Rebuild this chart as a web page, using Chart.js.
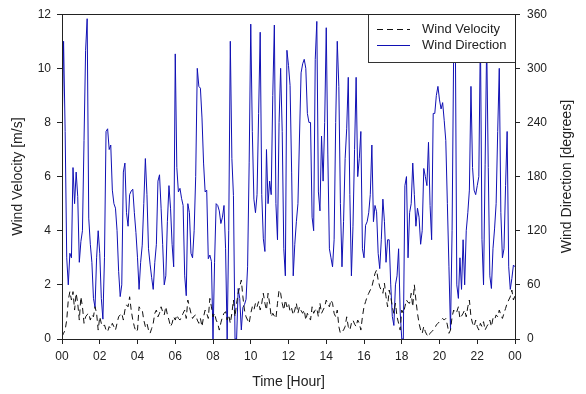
<!DOCTYPE html>
<html>
<head>
<meta charset="utf-8">
<script src="https://cdn.jsdelivr.net/npm/chart.js@4.4.1/dist/chart.umd.min.js"></script>
<style>
  html, body { margin: 0; padding: 0; background: #fff; }
  #wrap { width: 586px; height: 394px; }
</style>
</head>
<body>
<div id="wrap"><canvas id="windChart" width="586" height="394"></canvas></div>
<script>
// tick labels on the time axis (every 2 hours)
const hourLabels = ['00', '02', '04', '06', '08', '10', '12', '14', '16', '18', '20', '22', '00'];
const seriesNames = ['Wind Velocity', 'Wind Direction'];
const stepMinutes = 5;

// wind velocity [m/s], one value every 5 minutes
const windVelocity = [
  0.09, 0.21, 0.33, 0.70, 1.44, 1.75, 1.44, 1.75, 1.07, 1.69, 1.32, 0.70, 1.56, 1.19, 0.58, 0.82, 0.90,
  0.95, 0.70, 0.89, 0.82, 1.19, 0.95, 0.33, 0.82, 0.58, 0.46, 0.52, 0.33, 0.27, 0.46, 0.39, 0.58, 0.45,
  0.33, 0.58, 0.82, 0.89, 0.95, 0.70, 1.07, 1.26, 1.19, 1.56, 1.07, 0.70, 0.46, 0.27, 0.33, 1.19, 1.10,
  1.07, 0.70, 0.46, 0.58, 0.33, 0.21, 0.39, 0.58, 0.95, 1.07, 0.82, 0.95, 1.19, 1.01, 0.89, 1.19, 0.90,
  0.70, 0.46, 0.58, 0.82, 0.70, 0.89, 0.76, 0.70, 0.82, 0.95, 1.07, 0.76, 1.44, 1.19, 0.95, 0.76, 0.85,
  0.89, 0.70, 0.58, 0.76, 0.46, 0.82, 1.07, 0.95, 0.76, 1.50, 1.19, 0.82, 0.95, 0.70, 0.58, 0.33, 0.60,
  0.82, 0.95, 1.01, 0.70, 0.89, 0.58, 0.95, 1.44, 0.82, 1.32, 1.69, 1.93, 2.18, 1.56, 1.07, 0.82, 0.70,
  0.58, 0.95, 1.19, 1.07, 1.32, 1.19, 1.38, 1.07, 1.32, 1.69, 1.32, 1.07, 1.69, 1.32, 0.82, 0.95, 0.85,
  0.76, 1.32, 1.81, 1.69, 1.32, 1.07, 1.44, 1.19, 1.32, 1.01, 1.13, 0.89, 1.07, 1.32, 0.95, 1.19, 1.05,
  0.95, 1.07, 0.70, 0.95, 0.82, 0.70, 1.19, 0.95, 1.07, 1.13, 0.82, 1.32, 0.95, 1.07, 1.19, 1.44, 1.30,
  1.19, 1.44, 1.32, 0.95, 0.82, 1.07, 0.46, 0.21, 0.27, 0.33, 0.46, 0.82, 0.46, 0.33, 0.58, 0.70, 0.55,
  0.46, 0.70, 0.58, 0.33, 0.82, 1.19, 1.38, 1.56, 1.69, 1.81, 1.93, 2.18, 2.42, 2.55, 2.18, 1.93, 1.80,
  1.69, 2.06, 1.56, 1.19, 1.81, 1.56, 1.19, 0.95, 1.32, 0.82, 0.58, 0.33, 1.07, 0.95, 1.19, 1.44, 1.35,
  1.32, 1.69, 1.19, 2.00, 1.44, 0.95, 0.58, 0.33, 0.21, 0.46, 0.27, 0.15, 0.09, 0.21, 0.27, 0.33, 0.40,
  0.52, 0.58, 0.64, 0.70, 0.76, 0.70, 0.76, 0.52, 0.21, 0.33, 0.82, 1.07, 0.95, 1.01, 1.19, 0.76, 0.85,
  0.95, 1.07, 0.82, 1.19, 1.44, 0.82, 0.58, 0.46, 0.70, 0.46, 0.33, 0.58, 0.46, 0.64, 0.33, 0.46, 0.55,
  0.70, 0.46, 0.76, 0.70, 0.89, 0.82, 1.07, 0.89, 0.76, 0.95, 1.13, 1.32, 1.44, 1.56, 1.81, 1.44, 1.60
];

// wind direction [degrees], one value every 5 minutes
const windDirection = [
  220, 330, 230, 90, 60, 95, 90, 190, 150, 185,
  158, 85, 108, 120, 220, 320, 355, 134, 105, 85,
  45, 35, 90, 120, 95, 45, 22, 90, 230, 233,
  210, 215, 165, 150, 145, 120, 75, 47, 60, 185,
  195, 140, 125, 160, 164, 166, 140, 118, 90, 55,
  85, 104, 150, 200, 160, 100, 83, 68, 55, 85,
  105, 175, 182, 145, 105, 60, 70, 130, 170, 145,
  105, 80, 316, 190, 163, 167, 156, 148, 70, 48,
  150, 140, 95, 90, 120, 180, 300, 280, 278, 245,
  195, 163, 165, 89, 93, 86, 0, 85, 150, 148,
  142, 128, 135, 148, 100, 0, 120, 330, 200, 159,
  0, 0, 56, 45, 10, 35, 38, 44, 80, 196,
  349, 230, 155, 140, 160, 250, 340, 160, 111, 97,
  210, 150, 175, 160, 270, 348, 150, 110, 240, 300,
  230, 100, 70, 320, 303, 281, 185, 70, 105, 130,
  150, 225, 295, 305, 310, 300, 250, 240, 240, 135,
  120, 310, 352, 163, 142, 225, 175, 240, 345, 205,
  100, 90, 80, 110, 240, 330, 280, 150, 80, 130,
  200, 233, 290, 160, 70, 125, 210, 290, 180, 200,
  230, 100, 90, 126, 130, 140, 160, 215, 130, 148,
  141, 95, 78, 110, 155, 130, 85, 110, 110, 60,
  25, 15, 60, 70, 100, 30, 0, 0, 170, 180,
  90, 140, 150, 195, 160, 125, 145, 135, 105, 120,
  189, 180, 170, 218, 148, 110, 250, 250, 270, 280,
  265, 255, 262, 242, 220, 150, 80, 10, 120, 320,
  358, 60, 45, 90, 55, 110, 60, 120, 140, 165,
  280, 190, 165, 160, 170, 180, 340, 110, 60, 193,
  330, 190, 70, 56, 100, 122, 150, 230, 300, 140,
  90, 100, 170, 230, 80, 55, 67, 82, 80
];

const velColor = '#111111';
const dirColor = '#1010b4';
const dash = [6, 4];
const textColor = '#222222';
const fontFamily = "'Liberation Sans', Arial, sans-serif";
const rightTitle = 'Wind Direction [degrees]';

const toPoints = arr => arr.map((v, i) => ({ x: i * stepMinutes / 60, y: v }));

// box around the plot, legend inside top-right corner, right axis title read bottom-up
const framePlugin = {
  id: 'frame',
  afterDraw(chart) {
    const { ctx, chartArea: a } = chart;
    ctx.save();
    // legend box
    const w = 147, h = 48;
    const lx = a.right - w, ly = a.top;
    ctx.fillStyle = '#fff';
    ctx.fillRect(lx, ly, w, h);
    ctx.strokeStyle = '#333';
    ctx.lineWidth = 1;
    ctx.strokeRect(Math.round(lx) + 0.5, Math.round(ly) + 0.5, w, h);

    const rows = [
      { y: ly + 15, color: velColor, dash: dash, text: seriesNames[0] },
      { y: ly + 31, color: dirColor, dash: [], text: seriesNames[1] }
    ];
    ctx.font = '13px ' + fontFamily;
    ctx.textBaseline = 'middle';
    ctx.textAlign = 'left';
    rows.forEach(r => {
      ctx.beginPath();
      ctx.setLineDash(r.dash);
      ctx.strokeStyle = r.color;
      ctx.moveTo(lx + 9, Math.round(r.y) + 0.5);
      ctx.lineTo(lx + 42, Math.round(r.y) + 0.5);
      ctx.stroke();
      ctx.fillStyle = textColor;
      ctx.fillText(r.text, lx + 54, r.y);
    });
    ctx.setLineDash([]);

    // plot frame
    ctx.strokeStyle = '#222';
    ctx.strokeRect(Math.round(a.left) + 0.5, Math.round(a.top) + 0.5,
      Math.round(a.right - a.left), Math.round(a.bottom - a.top));

    // right axis title
    ctx.translate(chart.width - 18.5, (a.top + a.bottom) / 2);
    ctx.rotate(-Math.PI / 2);
    ctx.font = '14px ' + fontFamily;
    ctx.textAlign = 'center';
    ctx.fillStyle = textColor;
    ctx.fillText(rightTitle, 0, 0);
    ctx.restore();
  }
};

const axisGrid = { drawOnChartArea: false, drawTicks: true, tickLength: 5, color: '#222' };
const tickFont = { family: fontFamily, size: 12 };
const titleFont = { family: fontFamily, size: 14 };

new Chart(document.getElementById('windChart'), {
  type: 'line',
  data: {
    datasets: [
      {
        label: seriesNames[0],
        data: toPoints(windVelocity),
        yAxisID: 'yVel',
        borderColor: velColor,
        borderWidth: 1,
        borderDash: dash,
        pointRadius: 0,
        tension: 0,
        fill: false
      },
      {
        label: seriesNames[1],
        data: toPoints(windDirection),
        yAxisID: 'yDir',
        borderColor: dirColor,
        borderWidth: 1,
        pointRadius: 0,
        tension: 0,
        fill: false
      }
    ]
  },
  options: {
    responsive: false,
    animation: false,
    devicePixelRatio: 1,
    layout: { padding: { top: 14, left: 0, right: 0, bottom: 0 } },
    plugins: {
      legend: { display: false },
      tooltip: { enabled: false }
    },
    scales: {
      x: {
        type: 'linear',
        min: 0,
        max: 24,
        grid: axisGrid,
        border: { display: true, color: '#222' },
        ticks: {
          stepSize: 2,
          autoSkip: false,
          maxRotation: 0,
          padding: 5,
          color: textColor,
          font: tickFont,
          callback: (value, index) => hourLabels[index]
        },
        title: { display: true, text: 'Time [Hour]', color: textColor, font: titleFont, padding: { top: 0, bottom: 3 } },
        afterFit: s => { s.height = 55; }
      },
      yVel: {
        position: 'left',
        min: 0,
        max: 12,
        grid: axisGrid,
        border: { display: true, color: '#222' },
        ticks: { stepSize: 2, padding: 6, color: textColor, font: tickFont },
        title: { display: true, text: 'Wind Velocity [m/s]', color: textColor, font: titleFont, padding: { top: 10, bottom: 0 } },
        afterFit: s => { s.width = 62; }
      },
      yDir: {
        position: 'right',
        min: 0,
        max: 360,
        grid: axisGrid,
        border: { display: true, color: '#222' },
        ticks: { stepSize: 60, padding: 7, color: textColor, font: tickFont },
        title: { display: false },
        afterFit: s => { s.width = 71; }
      }
    }
  },
  plugins: [framePlugin]
});
</script>
</body>
</html>
